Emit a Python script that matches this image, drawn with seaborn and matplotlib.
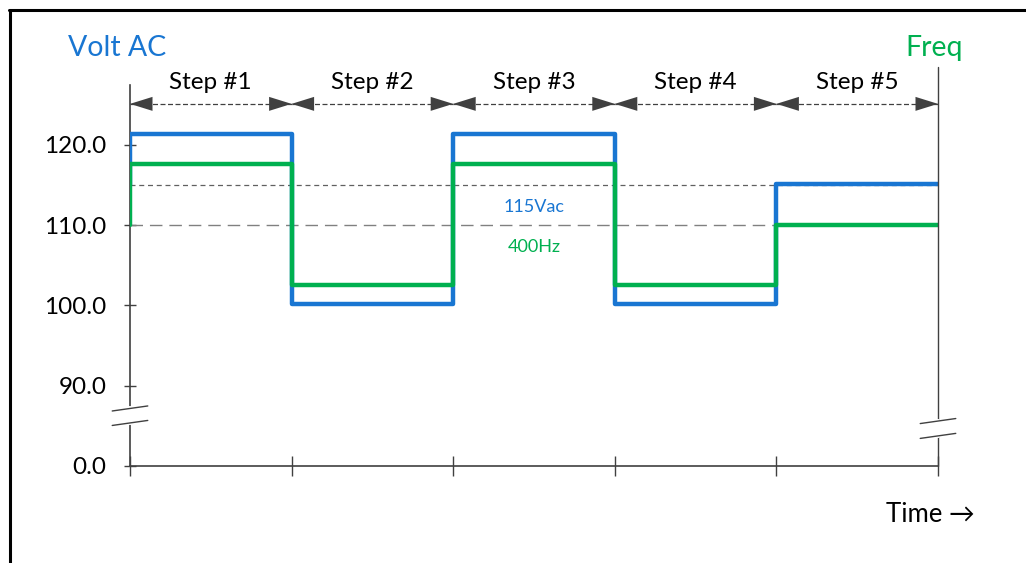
import numpy as np
import pandas as pd
import seaborn as sns
import matplotlib.pyplot as plt
from matplotlib.lines import Line2D

# step boundaries on the time axis
step_edges = [0, 1, 2, 3, 4, 5]
step_names = ['Step #1', 'Step #2', 'Step #3', 'Step #4', 'Step #5']

# step profiles (first point = value before step #1 starts)
volt_time = [0, 0, 1, 2, 3, 4, 5]
volt_vals = [115.0, 121.4, 100.2, 121.4, 100.2, 115.1, 115.1]
freq_time = [0, 0, 1, 2, 3, 4, 5]
freq_vals = [110.0, 117.6, 102.5, 117.6, 102.5, 110.0, 110.0]

# nominal levels
nominal_volt = 115.0
nominal_freq = 110.0

# y ticks (the lowest one sits below the axis break and reads 0.0)
ytick_pos = [80, 90, 100, 110, 120]
ytick_labels = ['0.0', '90.0', '100.0', '110.0', '120.0']

BLUE = '#1976D2'
GREEN = '#00B050'
GREY = '#404040'

sns.set_theme(style='white')
plt.rcParams['font.family'] = ['Lato', 'DejaVu Sans']

df = pd.concat([
    pd.DataFrame({'time': volt_time, 'value': volt_vals, 'signal': 'volt'}),
    pd.DataFrame({'time': freq_time, 'value': freq_vals, 'signal': 'freq'}),
], ignore_index=True)

fig = plt.figure(figsize=(10.26, 5.63), dpi=100)
ax = fig.add_axes([130 / 1026, 97 / 563, 808 / 1026, 381 / 563])

# reference dashed lines
ax.axhline(nominal_volt, color='#606060', lw=0.9, dashes=(4, 3), zorder=1)
ax.axhline(nominal_freq, color='#808080', lw=1.0, dashes=(9, 5), zorder=1)

sns.lineplot(data=df, x='time', y='value', hue='signal',
             palette={'volt': BLUE, 'freq': GREEN}, estimator=None,
             sort=False, drawstyle='steps-post', lw=3.2, legend=False,
             ax=ax, zorder=3)

ax.set_xlim(step_edges[0], step_edges[-1])
ax.set_ylim(80, 127.45)
ax.set_xticks(step_edges)
ax.set_xticklabels([])
ax.set_yticks(ytick_pos)
ax.set_yticklabels(ytick_labels)
ax.set_xlabel('')
ax.set_ylabel('')
ax.tick_params(axis='x', bottom=True, direction='inout', length=14,
               width=1.0, color=GREY)
ax.tick_params(axis='y', left=True, direction='inout', length=8, width=1.0,
               color=GREY, labelsize=17.5, pad=13, labelcolor='black')
for s in ['top', 'right']:
    ax.spines[s].set_visible(False)
for s in ['left', 'bottom']:
    ax.spines[s].set_color(GREY)
    ax.spines[s].set_linewidth(1.2)

# right-hand (frequency) axis line
ax.plot([1, 1], [0, 1.047], transform=ax.transAxes, color=GREY, lw=1.0,
        clip_on=False, zorder=4)

# axis breaks
def axis_break(xc, y1, y2):
    ax.plot([xc, xc], [y2, y1], transform=ax.transAxes, color='white',
            lw=3, clip_on=False, zorder=5)
    for yc in (y1, y2):
        ax.plot([xc - 0.022, xc + 0.022], [yc - 0.0066, yc + 0.0066],
                transform=ax.transAxes, color=GREY, lw=1.0,
                clip_on=False, zorder=6)

axis_break(0, 0.151, 0.113)
axis_break(1, 0.118, 0.079)

# step arrows and labels
arrow_y = 125.1
for i, name in enumerate(step_names):
    x0, x1 = step_edges[i], step_edges[i + 1]
    ax.plot([x0, x1], [arrow_y, arrow_y], color=GREY, lw=0.9, dashes=(4, 2),
            clip_on=False, zorder=4)
    ax.annotate('', xy=(x1, arrow_y), xytext=(x0, arrow_y),
                arrowprops=dict(arrowstyle='<|-|>,head_length=1.35,head_width=0.42',
                                color=GREY, lw=0, shrinkA=0, shrinkB=0),
                annotation_clip=False)
    ax.text((x0 + x1) / 2, arrow_y + 2.7, name, ha='center', va='center',
            fontsize=17.5, color='black', clip_on=False)

# level labels
ax.text(2.5, 112.3, '115Vac', ha='center', va='center', fontsize=13, color=BLUE)
ax.text(2.5, 107.3, '400Hz', ha='center', va='center', fontsize=13, color=GREEN)

# axis titles
fig.text(68 / 1026, 1 - 48 / 563, 'Volt AC', ha='left', va='center',
         fontsize=20.5, color=BLUE)
fig.text(963 / 1026, 1 - 48 / 563, 'Freq', ha='right', va='center',
         fontsize=20.5, color=GREEN)
fig.text(975 / 1026, 1 - 515 / 563, 'Time \u2192', ha='right', va='center',
         fontsize=18.5, color='black')

# frame (left and top edges)
fig.add_artist(Line2D([9.5 / 1026, 9.5 / 1026], [0, 1 - 10 / 563],
                      transform=fig.transFigure, color='black', lw=2.2))
fig.add_artist(Line2D([8.5 / 1026, 1], [1 - 10 / 563, 1 - 10 / 563],
                      transform=fig.transFigure, color='black', lw=2.2))

fig.savefig('out.png', dpi=100)
